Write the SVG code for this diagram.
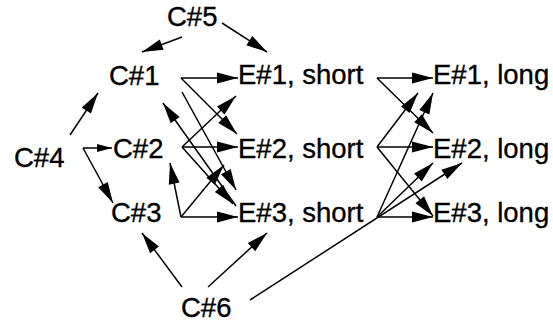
<svg xmlns="http://www.w3.org/2000/svg" width="553" height="324" viewBox="0 0 553 324">
<style>
text{font-family:"Liberation Sans",Arial,sans-serif;font-size:27.5px;fill:#000;stroke:#000;stroke-width:0.35}
.e line{stroke:#000;stroke-width:1.5;fill:none;marker-end:url(#ah)}
.e line.s{marker-end:url(#ahs)}
</style>
<defs>
<marker id="ah" markerUnits="userSpaceOnUse" markerWidth="21" markerHeight="11" refX="21" refY="5.5" orient="auto" overflow="visible">
<path d="M0,0 L21,5.5 L0,11 z" fill="#000"/>
</marker>
<marker id="ahs" markerUnits="userSpaceOnUse" markerWidth="15" markerHeight="8" refX="15" refY="4" orient="auto" overflow="visible">
<path d="M0,0 L15,4 L0,8 z" fill="#000"/>
</marker>
</defs>
<rect width="553" height="324" fill="#fff"/>
<g id="C5"><text x="167" y="26">C#5</text></g>
<g id="C1"><text x="109" y="85">C#1</text></g>
<g id="C4"><text x="14" y="167">C#4</text></g>
<g id="C2"><text x="113" y="158">C#2</text></g>
<g id="C3"><text x="111" y="222">C#3</text></g>
<g id="C6"><text x="181" y="317">C#6</text></g>
<g id="E1s"><text x="238" y="84">E#1, short</text></g>
<g id="E2s"><text x="238" y="158">E#2, short</text></g>
<g id="E3s"><text x="238" y="222">E#3, short</text></g>
<g id="E1l"><text x="433" y="84">E#1, long</text></g>
<g id="E2l"><text x="433" y="158">E#2, long</text></g>
<g id="E3l"><text x="433" y="222">E#3, long</text></g>
<g id="edges" class="e">
<line x1="182" y1="37" x2="142" y2="52"/>
<line x1="222" y1="23" x2="267" y2="52"/>
<line x1="70" y1="135" x2="98" y2="93"/>
<line class="s" x1="83" y1="148" x2="112" y2="148"/>
<line x1="83" y1="148" x2="113" y2="203"/>
<line x1="181" y1="78" x2="238" y2="78"/>
<line x1="181" y1="78" x2="237" y2="134"/>
<line x1="182" y1="92" x2="236" y2="190"/>
<line x1="236" y1="206" x2="163" y2="103"/>
<line x1="182" y1="147" x2="236" y2="96"/>
<line x1="182" y1="147" x2="238" y2="147"/>
<line x1="182" y1="147" x2="233" y2="204"/>
<line x1="181" y1="217" x2="170" y2="163"/>
<line x1="181" y1="217" x2="238" y2="217"/>
<line x1="181" y1="217" x2="224" y2="165"/>
<line x1="182" y1="287" x2="142" y2="233"/>
<line x1="208" y1="287" x2="267" y2="233"/>
<line x1="250" y1="300" x2="462" y2="163"/>
<line x1="377" y1="78" x2="433" y2="78"/>
<line x1="377" y1="78" x2="433" y2="133"/>
<line x1="377" y1="147" x2="418" y2="93"/>
<line x1="377" y1="147" x2="433" y2="147"/>
<line x1="377" y1="147" x2="433" y2="216"/>
<line x1="377" y1="217" x2="433" y2="217"/>
<line x1="377" y1="217" x2="433" y2="93"/>
<line x1="377" y1="217" x2="433" y2="163"/>
</g>
</svg>
